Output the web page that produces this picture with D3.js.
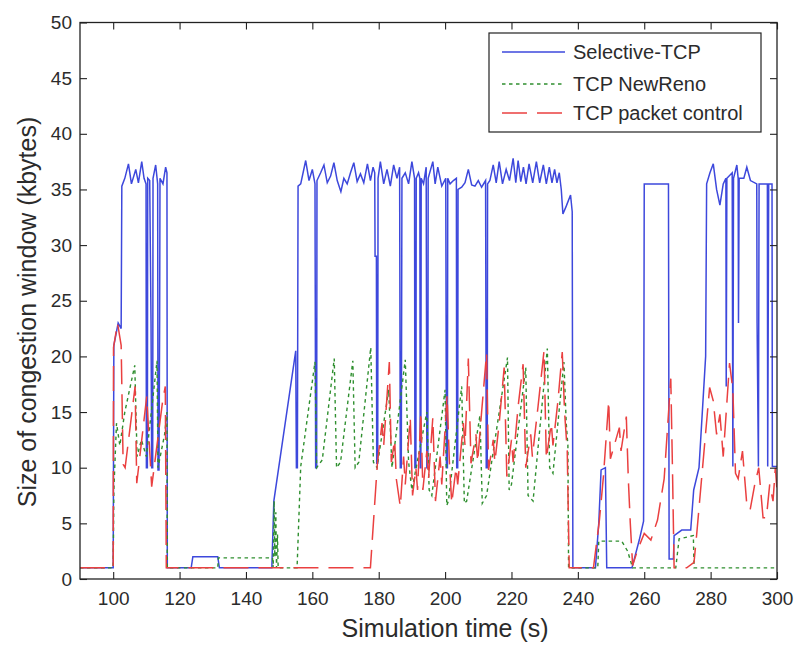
<!DOCTYPE html>
<html>
<head>
<meta charset="utf-8">
<script src="https://cdn.jsdelivr.net/npm/d3@7"></script>
<style>
  body { margin: 0; background: #fff; }
  svg { display: block; font-family: "Liberation Sans", Arial, sans-serif; }
  .axis text { fill: #2b2b2b; font-size: 19px; }
  .axis line { stroke: #222; stroke-width: 1.1; }
  .axis path { display: none; }
</style>
</head>
<body>
<svg id="chart" width="795" height="645"></svg>
<script>

var xTicks = [100, 120, 140, 160, 180, 200, 220, 240, 260, 280, 300];
var yTicks = [0, 5, 10, 15, 20, 25, 30, 35, 40, 45, 50];
var seriesNames = ["Selective-TCP", "TCP NewReno", "TCP packet control"];

// [time (s), window (kbytes)]
var selectiveTcp = [
  [90,1],[100,1],[100.2,21],[101.5,23],[102.4,22.5],[102.6,35.3],[103.5,36],[104.6,37.3],[105.5,35.5],
  [106.8,36.8],[107.6,35.6],[108.6,37.5],[109.3,36],[109.9,35.5],[110,10],[110.3,10],[110.4,36],[111,35.8],
  [111.4,23],[111.6,10],[111.9,10],[112,36],[112.8,37.2],[113.4,35.5],[113.5,9.8],[113.8,9.8],[114,23.5],
  [114.1,36],[115,35.5],[115.8,37],[116.2,36.5],[116.3,1],[123.5,1],[124,2],[131.5,2],[132,1],[147.8,1],
  [148.4,7],[155,20.5],[155.2,10],[155.5,10],[155.7,35.3],[156.5,35.5],[158,37.6],[159,35.8],[160,36.8],
  [160.8,35.5],[161,10],[161.3,10],[161.4,35.8],[162.5,36.5],[163.5,37.2],[164.5,35.6],[165.5,36.2],
  [166.5,37.4],[167.5,35.8],[168.6,34.8],[169.5,36],[170.5,35.5],[171.5,36.5],[172.5,37.4],[173.5,35.7],
  [174.5,36.4],[175.5,35.6],[176.6,37.3],[177.5,35.8],[178.3,37],[178.8,36.5],[178.9,29],[179.3,29],
  [179.4,10.4],[179.7,10.4],[179.8,36],[180.5,37.5],[181.5,35.5],[182.5,36.8],[183.5,35.3],[184.5,37.2],
  [185.5,36],[186.3,37],[186.5,10],[186.8,10],[187,36],[188,36.5],[189,35.5],[190,37.5],[190.8,36],
  [190.9,10],[191.2,10],[191.3,36],[192,36.5],[192.4,36],[192.5,10],[192.7,10],[192.8,36],[193.5,35.5],
  [194.3,37],[194.5,10],[194.8,10],[194.9,36],[196.3,37.5],[197,35.5],[197.8,37],[199,35.3],[200.2,36],
  [200.4,10],[200.7,10],[200.8,36],[201.5,35.5],[202.5,35.8],[203.4,36],[203.5,10],[203.8,10],[203.9,35],
  [205,35.2],[206,35.6],[207,36.8],[208,35.4],[209,35.3],[210,35.8],[211,35.2],[212.2,35.8],[212.4,10],
  [212.7,10],[212.8,35.5],[213.5,35.8],[214.5,37.2],[215.4,35.6],[216.3,37.5],[217.3,35.5],[218.4,36.8],
  [219.4,35.8],[220.5,37.8],[221.3,35.6],[222,37.6],[222.8,35.7],[223.6,37],[224.4,35.5],[225.3,37.3],
  [226.4,35.6],[227.5,37.5],[228.5,35.6],[229.6,37.2],[230.5,35.5],[231.4,37],[232.2,35.6],[233,36.8],
  [233.7,35.6],[234.4,36.5],[235,35],[235.5,32.8],[236.5,33.5],[237.8,34.5],[238.3,33],[238.5,1],
  [245.3,1],[246.3,5],[247,9.8],[248.3,10],[248.7,1],[256.3,1],[258.5,3.5],[259.8,5.2],[260,35.5],
  [267.3,35.5],[267.5,1.8],[268.8,1.8],[269,3.9],[271.3,4.4],[274,4.4],[274.9,8],[276.5,10],[278.5,20],
  [278.8,35.5],[279.8,36.5],[280.8,37.3],[281.8,35],[282.8,33.6],[283.8,35.5],[284.6,36],[284.7,17.3],
  [284.9,36],[286.5,36.5],[286.7,10.1],[286.9,36],[287.9,37.2],[288.3,36],[288.4,23],[288.6,36],[290,36],
  [290.9,37],[292,35.8],[293.9,35.5],[294,23],[294.4,10.1],[294.6,35.5],[297.1,35.5],[297.2,10.1],
  [297.5,35.5],[298.5,35.5],[298.6,10.1],[300,10.1]
];

var newReno = [
  [90,1],[100,1],[100.2,8],[101,14],[102,12],[103.5,15],[106.5,19.2],[107.2,11],[108.5,12.5],[110,11],
  [113.2,19.6],[113.5,10],[115.5,13],[116.2,15],[116.3,1],[131.5,1],[131.7,1.9],[148,1.9],[148.2,1],
  [148.5,7],[148.7,2],[149,6],[149.2,1],[149.5,4],[149.7,1],[155.4,1],[156.5,10.1],[160.8,19.5],[161.3,10],
  [163,10.7],[166.6,19.8],[167.3,10],[168.5,10.5],[172.2,19.6],[172.9,10],[174,10.5],[177.6,20.8],
  [178.4,10.5],[179.5,10],[183,17],[184,10],[188,19.7],[189,10.5],[190,8],[194.5,15],[195.2,8],[196,7.5],
  [200,17],[200.5,6.6],[201,7],[205,17.3],[205.8,6.8],[206.5,7],[210.5,14.7],[211.2,6.8],[212.5,7.5],
  [218.8,19.9],[219.3,8],[220,8.5],[224.3,19],[225,7.5],[226.5,7],[230.8,20.7],[231.5,10],[232.5,9.5],
  [235.8,19.5],[236.5,14],[237,12],[237.2,1],[246,1],[246.3,3.4],[253.2,3.4],[255,2.5],[256.5,1],
  [269.5,1],[270.5,3.6],[274.8,3.9],[275,1],[300,1]
];

var packetControl = [
  [90,1],[100,1],[100.1,20.8],[101.3,23],[102.4,21],[103,10.3],[103.6,10],[106.6,17.3],[107.1,8.6],
  [110.1,16.4],[111.6,8.3],[114.9,16],[115.7,17.3],[116,1],[177.5,1],[179.6,10.4],[181,14],[181.5,12],
  [183.2,19.5],[183.8,10.5],[184.8,12.5],[185.3,9],[186.5,6.5],[187.5,11],[188,8.5],[189.5,14.5],
  [190.2,7.5],[191.2,10],[191.7,8],[192.7,15],[193.3,8],[194.5,11.5],[195,9],[196.3,14.5],[197.1,7],
  [198.5,11],[199,8.5],[200.6,16.5],[201.3,10.5],[202,6.8],[203.3,10],[203.8,8.5],[205.5,14],[206,12],
  [207,19.8],[207.8,10.4],[209.3,13],[209.8,10.5],[211,15],[212.5,20.3],[213.1,9.8],[214.5,12.5],
  [215,10.5],[216.3,14],[217.8,19],[218.6,9.2],[220,12.5],[220.5,10.5],[222,15.5],[223.5,19.3],
  [224.3,10],[225.8,13],[226.3,11],[228,15.5],[229.8,20.5],[230.5,10.8],[232,14],[232.5,12],[234,16],
  [235.3,20.4],[236,15],[236.8,11.5],[237.4,1],[244.7,1],[246.5,5.3],[247.7,9.2],[249.3,16],[249.8,10.8],
  [252.5,13.6],[253,11.5],[254.6,14.6],[255.2,9],[255.8,5],[256.5,1.2],[258,2.6],[260,4.1],[262,3.5],
  [264,5.3],[266,9],[268,18],[268.5,10],[269,1],[272.8,1],[275,1.5],[275.8,4],[279.7,17.2],[280.8,16],
  [281.8,13],[282.8,14.8],[283.8,11],[285.7,19.4],[286.7,17],[287.5,9.5],[288.3,9],[289.6,11.5],
  [290.9,6.7],[291.9,6.2],[293.3,8.5],[294.5,10],[295.8,5.5],[296.8,5.5],[297.8,8.5],[298.8,7],
  [299.5,10],[300,8]
];

var margin = { top: 22.5, right: 18, bottom: 66, left: 80 },
    svg = d3.select("#chart"),
    width = +svg.attr("width") - margin.left - margin.right,
    height = +svg.attr("height") - margin.top - margin.bottom,

    x = d3.scaleLinear().domain([90, 300]).range([0, width]),
    y = d3.scaleLinear().domain([0, 50]).range([height, 0]),

    g = svg.append("g")
      .attr("transform", "translate(" + margin.left + "," + margin.top + ")");

g.append("clipPath")
    .attr("id", "plot-clip")
  .append("rect")
    .attr("width", width)
    .attr("height", height);

var series = [
  { name: seriesNames[0], values: selectiveTcp, color: "#3d48dc", dash: null, w: 1.5 },
  { name: seriesNames[1], values: newReno, color: "#2f8f2f", dash: "3.5,3.5", w: 1.4 },
  { name: seriesNames[2], values: packetControl, color: "#ea4040", dash: "25,10", w: 1.5 }
];

var line = d3.line()
  .x(function(d) { return x(d[0]); })
  .y(function(d) { return y(d[1]); });

g.append("g")
    .attr("clip-path", "url(#plot-clip)")
  .selectAll("path")
  .data(series)
  .enter()
    .append("path")
    .attr("d", function(d) { return line(d.values); })
    .attr("fill", "none")
    .attr("stroke", function(d) { return d.color; })
    .attr("stroke-width", function(d) { return d.w; })
    .attr("stroke-dasharray", function(d) { return d.dash; });

// MATLAB style box: ticks inside on all four sides
g.append("g")
    .attr("class", "axis")
    .attr("transform", "translate(0," + height + ")")
    .call(d3.axisBottom(x).tickValues(xTicks).tickSizeInner(-7).tickSizeOuter(0).tickPadding(13));

g.append("g")
    .attr("class", "axis")
    .call(d3.axisTop(x).tickValues(xTicks).tickSizeInner(-7).tickSizeOuter(0).tickFormat(""));

g.append("g")
    .attr("class", "axis")
    .call(d3.axisLeft(y).tickValues(yTicks).tickSizeInner(-7).tickSizeOuter(0).tickPadding(8));

g.append("g")
    .attr("class", "axis")
    .attr("transform", "translate(" + width + ",0)")
    .call(d3.axisRight(y).tickValues(yTicks).tickSizeInner(-7).tickSizeOuter(0).tickFormat(""));

g.append("rect")
    .attr("width", width)
    .attr("height", height)
    .attr("fill", "none")
    .attr("stroke", "#222")
    .attr("stroke-width", 1.3);

g.append("text")
    .attr("x", x(200))
    .attr("y", height + 58)
    .attr("text-anchor", "middle")
    .attr("fill", "#2b2b2b")
    .style("font-size", "25px")
    .text("Simulation time (s)");

g.append("text")
    .attr("transform", "translate(" + (36 - margin.left) + "," + (312 - margin.top) + ") rotate(-90)")
    .attr("text-anchor", "middle")
    .attr("fill", "#2b2b2b")
    .style("font-size", "25px")
    .text("Size of congestion window (kbytes)");

// legend
var legend = svg.append("g").attr("transform", "translate(489,33)");

legend.append("rect")
    .attr("width", 272)
    .attr("height", 99)
    .attr("fill", "#fff")
    .attr("stroke", "#222")
    .attr("stroke-width", 1.2);

var rowY = [19, 51, 80];

var item = legend.selectAll("g.item")
  .data(series)
  .enter()
    .append("g")
    .attr("class", "item")
    .attr("transform", function(d, i) { return "translate(0," + rowY[i] + ")"; });

item.append("line")
    .attr("x1", 13)
    .attr("x2", 76)
    .attr("stroke", function(d) { return d.color; })
    .attr("stroke-width", function(d) { return d.w; })
    .attr("stroke-dasharray", function(d) { return d.dash; });

item.append("text")
    .attr("x", 84)
    .attr("dy", "0.35em")
    .attr("fill", "#2b2b2b")
    .style("font-size", "20px")
    .text(function(d) { return d.name; });

</script>
</body>
</html>
